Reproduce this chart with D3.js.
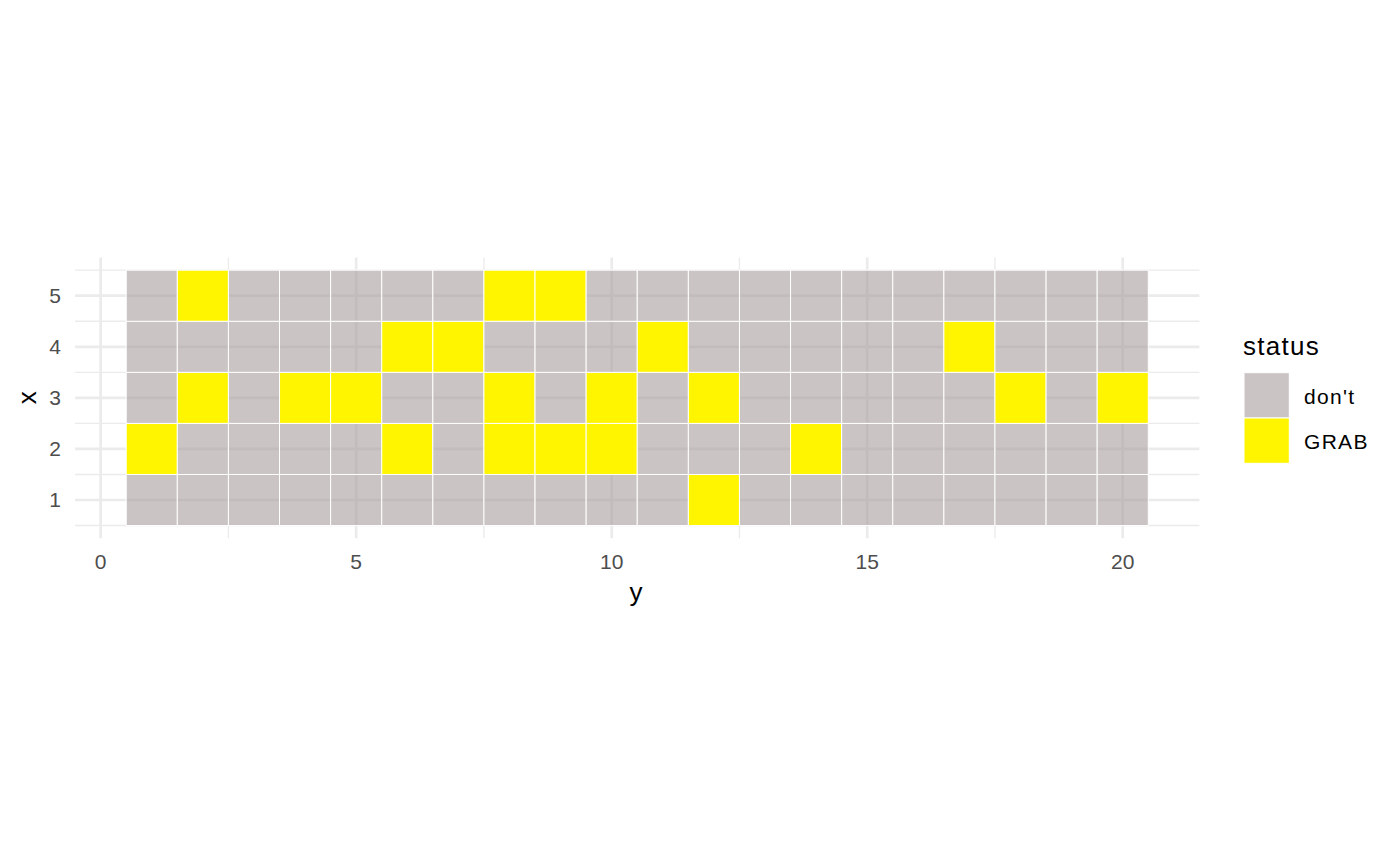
<!DOCTYPE html>
<html lang="en">
<head>
  <meta charset="UTF-8">
  <title>GRAB tiles</title>
  <style>
    body { margin: 0; background: #fff; }
    svg text { font-family: "Liberation Sans", Arial, Helvetica, sans-serif; }
    .tick-label { font-size: 21px; fill: #4d4d4d; }
    .axis-title { font-size: 26px; fill: #000; }
    .legend-title { font-size: 26px; fill: #000; letter-spacing: 1.3px; }
    .legend-label { font-size: 21px; fill: #000; letter-spacing: 1.3px; }
  </style>
</head>
<body>
  <svg id="chart"></svg>

  <script src="https://d3js.org/d3.v7.min.js"></script>
  <script>
    // grid size
    const nCols = 20;
    const nRows = 5;

    // columns (the "y" value) marked GRAB, one list per row ("x" value)
    const grabRow1 = [12];
    const grabRow2 = [1, 6, 8, 9, 10, 14];
    const grabRow3 = [2, 4, 5, 8, 10, 12, 18, 20];
    const grabRow4 = [6, 7, 11, 17];
    const grabRow5 = [2, 8, 9];

    const statusLevels = ["don't", "GRAB"];
    const xTicks = [0, 5, 10, 15, 20];
    const xMinor = [2.5, 7.5, 12.5, 17.5];
    const yTicks = [1, 2, 3, 4, 5];
    const yMinor = [0.5, 1.5, 2.5, 3.5, 4.5, 5.5];

    const grabByRow = [grabRow1, grabRow2, grabRow3, grabRow4, grabRow5];
    const cells = [];
    for (let r = 1; r <= nRows; r++) {
      for (let c = 1; c <= nCols; c++) {
        cells.push({ x: r, y: c, status: grabByRow[r - 1].includes(c) ? "GRAB" : "don't" });
      }
    }

    const W = 1400, H = 865;
    const svg = d3.select("#chart").attr("width", W).attr("height", H);

    // scales: horizontal shows "y", vertical shows "x"
    const sx = d3.scaleLinear().domain([-0.5, 21.5]).range([75.1, 1199.4]);
    const sy = d3.scaleLinear().domain([0.25, 5.75]).range([538.3, 257.4]);
    const fill = d3.scaleOrdinal().domain(statusLevels).range(["#a99c9c", "#fff500"]);
    const alpha = d3.scaleOrdinal().domain(statusLevels).range([0.6, 1]);

    const grid = svg.append("g");
    // minor grid
    grid.selectAll(".vmin").data(xMinor).join("line")
      .attr("x1", d => sx(d)).attr("x2", d => sx(d))
      .attr("y1", sy(5.75)).attr("y2", sy(0.25))
      .attr("stroke", "#ebebeb").attr("stroke-width", 1.35);
    grid.selectAll(".hmin").data(yMinor).join("line")
      .attr("y1", d => sy(d)).attr("y2", d => sy(d))
      .attr("x1", sx(-0.5)).attr("x2", sx(21.5))
      .attr("stroke", "#ebebeb").attr("stroke-width", 1.35);
    // major grid
    grid.selectAll(".vmaj").data(xTicks).join("line")
      .attr("x1", d => sx(d)).attr("x2", d => sx(d))
      .attr("y1", sy(5.75)).attr("y2", sy(0.25))
      .attr("stroke", "#ebebeb").attr("stroke-width", 2.7);
    grid.selectAll(".hmaj").data(yTicks).join("line")
      .attr("y1", d => sy(d)).attr("y2", d => sy(d))
      .attr("x1", sx(-0.5)).attr("x2", sx(21.5))
      .attr("stroke", "#ebebeb").attr("stroke-width", 2.7);

    // tiles
    svg.append("g").selectAll("rect").data(cells).join("rect")
      .attr("x", d => sx(d.y - 0.5))
      .attr("y", d => sy(d.x + 0.5))
      .attr("width", d => sx(d.y + 0.5) - sx(d.y - 0.5))
      .attr("height", d => sy(d.x - 0.5) - sy(d.x + 0.5))
      .attr("fill", d => fill(d.status))
      .attr("fill-opacity", d => alpha(d.status))
      .attr("stroke", "#fff")
      .attr("stroke-width", 1);

    // tick labels
    svg.append("g").selectAll("text").data(xTicks).join("text")
      .attr("class", "tick-label")
      .attr("x", d => sx(d)).attr("y", 569)
      .attr("text-anchor", "middle")
      .text(d => d);
    svg.append("g").selectAll("text").data(yTicks).join("text")
      .attr("class", "tick-label")
      .attr("x", 61).attr("y", d => sy(d) + 7.5)
      .attr("text-anchor", "end")
      .text(d => d);

    // axis titles
    svg.append("text").attr("class", "axis-title")
      .attr("x", 636).attr("y", 601)
      .attr("text-anchor", "middle").text("y");
    svg.append("text").attr("class", "axis-title")
      .attr("transform", `translate(36,${sy(3)}) rotate(-90)`)
      .attr("text-anchor", "middle").text("x");

    // legend
    const legend = svg.append("g").attr("transform", "translate(1244,0)");
    legend.append("text").attr("class", "legend-title")
      .attr("x", -1).attr("y", 355).text("status");
    const keys = legend.selectAll("g.key").data(statusLevels).join("g")
      .attr("class", "key")
      .attr("transform", (d, i) => `translate(0,${372.7 + i * 45.3})`);
    keys.append("rect")
      .attr("width", 45.3).attr("height", 45.3)
      .attr("fill", d => fill(d))
      .attr("fill-opacity", d => alpha(d))
      .attr("stroke", "#fff").attr("stroke-width", 1);
    keys.append("text").attr("class", "legend-label")
      .attr("x", 60).attr("y", 31)
      .text(d => d);
  </script>
</body>
</html>
